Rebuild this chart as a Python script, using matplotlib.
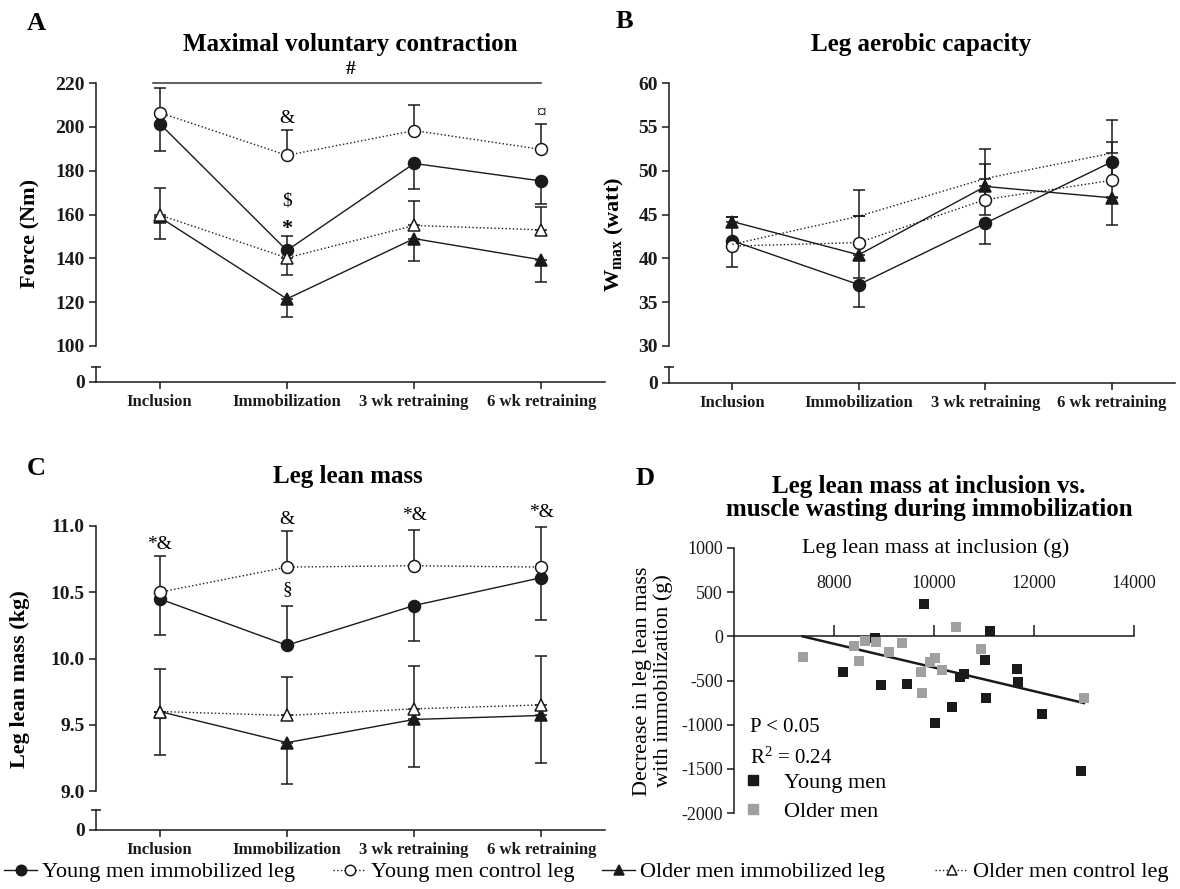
import matplotlib
matplotlib.use('Agg')
import matplotlib.pyplot as plt
from matplotlib.lines import Line2D

plt.rcParams['font.family'] = ['Liberation Serif', 'DejaVu Serif']
plt.rcParams['mathtext.fontset'] = 'custom'
plt.rcParams['mathtext.rm'] = 'Liberation Serif'
plt.rcParams['mathtext.it'] = 'Liberation Serif:italic'
plt.rcParams['mathtext.bf'] = 'Liberation Serif:bold'
plt.rcParams['axes.unicode_minus'] = False

ink = '#1a1a1a'
grey = '#a0a0a0'

timepoints = ['Inclusion', 'Immobilization', '3 wk retraining', '6 wk retraining']
xpos = [0, 1, 2, 3]

# A: maximal voluntary contraction (Nm); errors given as (below, above)
mvc_young_imm = [201.5, 143.6, 183.3, 175.3]
mvc_young_ctl = [206.5, 187.0, 198.3, 189.7]
mvc_old_imm = [158.8, 121.5, 149.0, 139.3]
mvc_old_ctl = [159.8, 140.2, 155.0, 153.0]
mvc_young_imm_err = ([12.7, 0, 11.6, 10.5], [0, 6.4, 0, 0])
mvc_young_ctl_err = ([0, 0, 0, 0], [11.0, 11.5, 11.7, 11.5])
mvc_old_imm_err = ([9.8, 8.2, 10.4, 10.2], [0, 0, 0, 0])
mvc_old_ctl_err = ([0, 7.6, 0, 0], [12.2, 0, 11.2, 10.6])

# B: leg aerobic capacity, Wmax (watt)
wmax_young_imm = [42.0, 37.0, 44.0, 51.0]
wmax_young_ctl = [41.4, 41.8, 46.7, 48.9]
wmax_old_imm = [44.2, 40.4, 48.2, 46.9]
wmax_old_ctl = [41.6, 44.8, 49.1, 52.0]
wmax_young_imm_err = ([3.0, 2.6, 2.4, 4.0], [0, 0, 0, 0])
wmax_young_ctl_err = ([0, 0, 0, 0], [3.3, 3.0, 4.1, 4.4])
wmax_old_imm_err = ([0, 2.6, 3.2, 3.15], [0.5, 0, 0, 0])
wmax_old_ctl_err = ([0, 0, 0, 0], [0, 3.0, 3.4, 3.8])

# C: leg lean mass (kg)
llm_young_imm = [10.45, 10.10, 10.40, 10.61]
llm_young_ctl = [10.50, 10.69, 10.70, 10.69]
llm_old_imm = [9.60, 9.365, 9.54, 9.57]
llm_old_ctl = [9.60, 9.57, 9.62, 9.65]
llm_young_imm_err = ([0.27, 0, 0.27, 0.32], [0, 0.30, 0, 0])
llm_young_ctl_err = ([0, 0, 0, 0], [0.27, 0.27, 0.27, 0.30])
llm_old_imm_err = ([0.33, 0.31, 0.36, 0.36], [0, 0, 0, 0])
llm_old_ctl_err = ([0, 0, 0, 0], [0.32, 0.29, 0.32, 0.37])

# D: lean mass at inclusion (g) vs change with immobilization (g)
young_mass = [9800, 11110, 8820, 8180, 8940, 9450, 11020, 10510, 10600,
              11660, 11680, 11035, 10350, 10010, 12150, 12940]
young_change = [370, 65, -20, -400, -550, -545, -265, -455, -425,
                -370, -520, -695, -805, -980, -880, -1525]
older_mass = [7370, 8390, 8620, 8845, 8500, 9095, 9365, 10430, 10010,
              9925, 10160, 9745, 9765, 10940, 13000]
older_change = [-235, -115, -50, -60, -275, -175, -75, 110, -240,
                -295, -385, -405, -645, -145, -700]
fit_x = [7370, 13000]
fit_y = [0, -755]

W, H = 1180, 889
fig = plt.figure(figsize=(W / 100, H / 100), dpi=100)


def box(l, t, r, b):
    return [l / W, 1 - b / H, (r - l) / W, (b - t) / H]


def fx(x):
    return x / W


def fy(y):
    return 1 - y / H


styles = [
    dict(ls='-', marker='o', mfc=ink),
    dict(ls=':', marker='o', mfc='white'),
    dict(ls='-', marker='^', mfc=ink),
    dict(ls=':', marker='^', mfc='white'),
]


def draw_series(ax, values, errs, show_marker=(True, True, True, True)):
    for v, e in zip(values, errs):
        ax.errorbar(xpos, v, yerr=[e[0], e[1]], fmt='none', ecolor=ink,
                    elinewidth=1.1, capsize=4, capthick=1.1, zorder=2, clip_on=False)
    for v, st, sm in zip(values, styles, show_marker):
        ax.plot(xpos, v, color=ink, lw=1.0, ls=st['ls'],
                marker=st['marker'] if sm else 'None', ms=8.6,
                mfc=st['mfc'], mec=ink, mew=1.1, zorder=3, clip_on=False)


def style_top(ax, ylim, yticks, labels):
    ax.set_xlim(-0.5, 3.5)
    ax.set_ylim(*ylim)
    ax.set_yticks(yticks)
    ax.set_yticklabels(labels)
    ax.set_xticks([])
    for s in ['top', 'right', 'bottom']:
        ax.spines[s].set_visible(False)
    ax.spines['left'].set_linewidth(1.1)
    ax.spines['left'].set_color(ink)
    ax.tick_params(axis='y', length=5, width=1.1, pad=3, labelsize=14, colors=ink)
    for t in ax.get_yticklabels():
        t.set_fontweight('bold')


def style_bottom(ax):
    ax.set_xlim(-0.5, 3.5)
    ax.set_ylim(0, 1)
    ax.set_yticks([0])
    ax.set_yticklabels(['0'])
    ax.set_xticks(xpos)
    ax.set_xticklabels(timepoints)
    for s in ['top', 'right']:
        ax.spines[s].set_visible(False)
    for s in ['left', 'bottom']:
        ax.spines[s].set_linewidth(1.1)
        ax.spines[s].set_color(ink)
    ax.tick_params(axis='y', length=5, width=1.1, pad=3, labelsize=14, colors=ink)
    ax.tick_params(axis='x', length=5, width=1.1, pad=4, labelsize=12, colors=ink)
    for t in ax.get_yticklabels() + ax.get_xticklabels():
        t.set_fontweight('bold')
    ax.plot([-0.5], [1], marker='_', ms=7, mew=1.1, color=ink, clip_on=False)


# ---- panel A
axA = fig.add_axes(box(96, 83, 605, 346))
axA2 = fig.add_axes(box(96, 367, 605, 382))
style_top(axA, (100, 220), range(100, 221, 20), [str(v) for v in range(100, 221, 20)])
style_bottom(axA2)
draw_series(axA, [mvc_young_imm, mvc_young_ctl, mvc_old_imm, mvc_old_ctl],
            [mvc_young_imm_err, mvc_young_ctl_err, mvc_old_imm_err, mvc_old_ctl_err])
axA.plot([-0.05, 3.0], [220, 220], color='#444444', lw=1.2, clip_on=False)
axA.text(1.5, 226, '#', ha='center', va='center', fontsize=14, fontweight='bold')
axA.text(1, 204, '&', ha='center', va='center', fontsize=14)
axA.text(1, 166, '$', ha='center', va='center', fontsize=14)
axA.text(1, 153.5, '*', ha='center', va='center', fontsize=16, fontweight='bold')
axA.text(3, 206, '¤', ha='center', va='center', fontsize=14)

# ---- panel B
axB = fig.add_axes(box(669, 83, 1175, 346))
axB2 = fig.add_axes(box(669, 367, 1175, 383))
style_top(axB, (30, 60), range(30, 61, 5), [str(v) for v in range(30, 61, 5)])
style_bottom(axB2)
draw_series(axB, [wmax_young_imm, wmax_young_ctl, wmax_old_imm, wmax_old_ctl],
            [wmax_young_imm_err, wmax_young_ctl_err, wmax_old_imm_err, wmax_old_ctl_err],
            show_marker=(True, True, True, False))

# ---- panel C
axC = fig.add_axes(box(96, 526, 605, 791))
axC2 = fig.add_axes(box(96, 810, 605, 830))
style_top(axC, (9.0, 11.0), [9.0, 9.5, 10.0, 10.5, 11.0], ['9.0', '9.5', '10.0', '10.5', '11.0'])
style_bottom(axC2)
draw_series(axC, [llm_young_imm, llm_young_ctl, llm_old_imm, llm_old_ctl],
            [llm_young_imm_err, llm_young_ctl_err, llm_old_imm_err, llm_old_ctl_err])
for x, y, s in [(0, 10.86, '*&'), (1, 11.05, '&'), (1, 10.52, '§'),
                (2, 11.08, '*&'), (3, 11.10, '*&')]:
    axC.text(x, y, s, ha='center', va='center', fontsize=14)

# ---- panel D
axD = fig.add_axes(box(734, 548, 1134, 813))
axD.set_xlim(6000, 14000)
axD.set_ylim(-2000, 1000)
axD.set_yticks(range(-2000, 1001, 500))
axD.set_xticks([8000, 10000, 12000, 14000])
axD.spines['top'].set_position(('data', 0))
axD.spines['bottom'].set_visible(False)
axD.spines['right'].set_visible(False)
for s in ['top', 'left']:
    axD.spines[s].set_linewidth(1.1)
    axD.spines[s].set_color(ink)
axD.xaxis.set_ticks_position('top')
axD.tick_params(axis='x', direction='out', length=8, width=1.1, pad=24, labelsize=13, colors=ink)
axD.tick_params(axis='y', length=5, width=1.1, pad=3, labelsize=13, colors=ink)
axD.plot(fit_x, fit_y, color=ink, lw=1.8, zorder=3)
axD.scatter(young_mass, young_change, marker='s', s=42, color=ink, zorder=4, linewidths=0)
axD.scatter(older_mass, older_change, marker='s', s=42, color=grey, zorder=4, linewidths=0)
axD.text(0.505, 1.0, 'Leg lean mass at inclusion (g)', transform=axD.transAxes,
         ha='center', va='center', fontsize=16)
fig.text(fx(750), fy(728), 'P < 0.05', ha='left', va='center', fontsize=15)
fig.text(fx(750), fy(758), r'R$^2$ = 0.24', ha='left', va='center', fontsize=15)
d_handles = [Line2D([], [], ls='None', marker='s', ms=6.5, color=ink),
             Line2D([], [], ls='None', marker='s', ms=6.5, color=grey)]
axD.legend(d_handles, ['Young men', 'Older men'], loc='center left',
           bbox_to_anchor=(fx(744), fy(797)), bbox_transform=fig.transFigure,
           frameon=False, handlelength=0.8, handletextpad=1.0, labelspacing=0.4,
           borderpad=0, borderaxespad=0, fontsize=16)

# ---- titles, letters, axis labels
for x, y, s in [(36, 24, 'A'), (624, 22, 'B'), (36, 469, 'C'), (645, 479, 'D')]:
    fig.text(fx(x), fy(y), s, ha='center', va='center', fontsize=19, fontweight='bold')
fig.text(fx(350), fy(44), 'Maximal voluntary contraction', ha='center', va='center',
         fontsize=18, fontweight='bold')
fig.text(fx(921), fy(44), 'Leg aerobic capacity', ha='center', va='center',
         fontsize=18, fontweight='bold')
fig.text(fx(348), fy(477), 'Leg lean mass', ha='center', va='center',
         fontsize=18, fontweight='bold')
fig.text(fx(929), fy(498), 'Leg lean mass at inclusion vs.\nmuscle wasting during immobilization',
         ha='center', va='center', fontsize=18, fontweight='bold', linespacing=1.05)
fig.text(fx(30), fy(233), 'Force (Nm)', rotation=90, ha='center', va='center',
         fontsize=16, fontweight='bold')
fig.text(fx(614), fy(235), r'$\mathbf{W_{max}}$ (watt)', rotation=90, ha='center', va='center',
         fontsize=16, fontweight='bold')
fig.text(fx(20), fy(679), 'Leg lean mass (kg)', rotation=90, ha='center', va='center',
         fontsize=16, fontweight='bold')
fig.text(fx(653), fy(681), 'Decrease in leg lean mass\nwith immobilization (g)', rotation=90,
         ha='center', va='center', fontsize=16, linespacing=1.15)

# ---- shared legend along the bottom
legend_labels = ['Young men immobilized leg', 'Young men control leg',
                 'Older men immobilized leg', 'Older men control leg']
legend_x = [4, 333, 602, 935]
for st, lab, x in zip(styles, legend_labels, legend_x):
    h = Line2D([], [], color=ink, lw=1.0, ls=st['ls'], marker=st['marker'], ms=7.5,
               mfc=st['mfc'], mec=ink, mew=1.1)
    fig.legend([h], [lab], loc='center left', bbox_to_anchor=(fx(x), fy(872)),
               frameon=False, handlelength=1.5, handletextpad=0.2,
               borderpad=0, borderaxespad=0, fontsize=16)

fig.savefig('out.png', dpi=100)
